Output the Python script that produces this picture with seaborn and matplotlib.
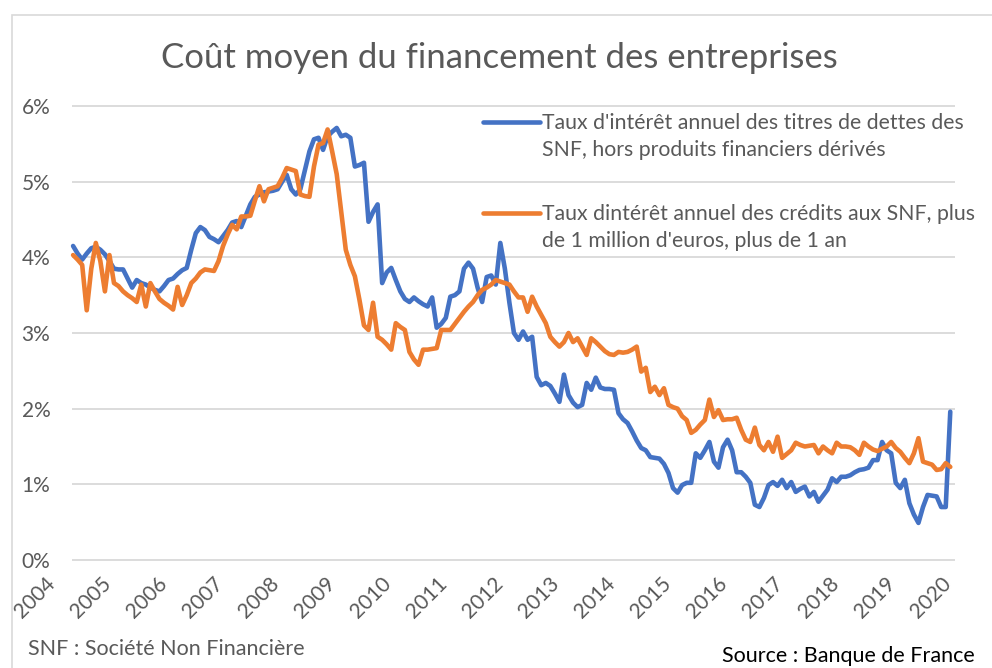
import pandas as pd
import matplotlib.pyplot as plt
import seaborn as sns
from matplotlib.patches import Rectangle

# Données mensuelles (en %)
titres = [
    4.15, 4.05, 3.97, 4.05, 4.12, 4.14, 4.10, 4.04, 3.95, 3.85, 3.84, 3.84,
    3.72, 3.60, 3.70, 3.66, 3.64, 3.60, 3.57, 3.55, 3.62, 3.70, 3.72, 3.78,
    3.83, 3.86, 4.10, 4.32, 4.40, 4.36, 4.27, 4.24, 4.20, 4.28, 4.36, 4.46,
    4.48, 4.40, 4.55, 4.70, 4.80, 4.83, 4.86, 4.87, 4.88, 4.90, 5.00, 5.09,
    4.90, 4.83, 4.90, 5.15, 5.40, 5.56, 5.58, 5.42, 5.60, 5.66, 5.71, 5.60,
    5.62, 5.58, 5.20, 5.22, 5.25, 4.47, 4.60, 4.70, 3.66, 3.80, 3.86, 3.70,
    3.55, 3.45, 3.41, 3.47, 3.42, 3.38, 3.35, 3.47, 3.07, 3.12, 3.20, 3.48,
    3.50, 3.55, 3.85, 3.93, 3.85, 3.60, 3.41, 3.74, 3.76, 3.64, 4.19, 3.85,
    3.40, 3.00, 2.91, 3.02, 2.91, 2.95, 2.42, 2.31, 2.34, 2.30, 2.20, 2.09,
    2.45, 2.18, 2.08, 2.02, 2.05, 2.34, 2.25, 2.41, 2.28, 2.26, 2.26, 2.25,
    1.94, 1.86, 1.81, 1.70, 1.58, 1.48, 1.45, 1.36, 1.35, 1.34, 1.27, 1.15,
    0.95, 0.89, 0.99, 1.02, 1.02, 1.41, 1.35, 1.45, 1.56, 1.30, 1.22, 1.49,
    1.59, 1.45, 1.16, 1.16, 1.10, 1.02, 0.73, 0.70, 0.82, 0.99, 1.03, 0.98,
    1.06, 0.95, 1.03, 0.90, 0.94, 0.97, 0.84, 0.90, 0.77, 0.85, 0.93, 1.08,
    1.03, 1.10, 1.10, 1.12, 1.16, 1.19, 1.20, 1.22, 1.32, 1.32, 1.56, 1.45,
    1.41, 1.02, 0.95, 1.06, 0.75, 0.60, 0.49, 0.70, 0.86, 0.85, 0.84, 0.70,
    0.70, 1.96,
]
credits = [
    4.03, 3.97, 3.90, 3.30, 3.85, 4.19, 3.95, 3.55, 4.03, 3.66, 3.62, 3.55,
    3.50, 3.46, 3.41, 3.64, 3.35, 3.66, 3.55, 3.45, 3.40, 3.36, 3.31, 3.61,
    3.37, 3.50, 3.66, 3.72, 3.80, 3.84, 3.83, 3.82, 3.95, 4.15, 4.30, 4.43,
    4.37, 4.54, 4.54, 4.55, 4.75, 4.94, 4.74, 4.90, 4.92, 4.94, 5.05, 5.18,
    5.16, 5.14, 4.83, 4.81, 4.80, 5.20, 5.49, 5.51, 5.69, 5.40, 5.10, 4.60,
    4.10, 3.90, 3.75, 3.44, 3.10, 3.04, 3.40, 2.95, 2.91, 2.85, 2.78, 3.13,
    3.08, 3.04, 2.75, 2.65, 2.58, 2.78, 2.78, 2.79, 2.80, 3.04, 3.04, 3.04,
    3.12, 3.20, 3.28, 3.35, 3.41, 3.50, 3.57, 3.60, 3.64, 3.70, 3.68, 3.66,
    3.64, 3.55, 3.47, 3.47, 3.28, 3.48, 3.35, 3.24, 3.13, 2.95, 2.88, 2.82,
    2.88, 3.00, 2.88, 2.93, 2.82, 2.71, 2.93, 2.88, 2.82, 2.76, 2.72, 2.71,
    2.75, 2.74, 2.75, 2.78, 2.82, 2.49, 2.54, 2.22, 2.29, 2.18, 2.27, 2.05,
    2.02, 2.00, 1.90, 1.85, 1.68, 1.72, 1.79, 1.85, 2.12, 1.89, 1.98, 1.85,
    1.86, 1.86, 1.88, 1.72, 1.59, 1.56, 1.75, 1.52, 1.45, 1.56, 1.43, 1.63,
    1.35, 1.40, 1.45, 1.55, 1.52, 1.50, 1.51, 1.52, 1.41, 1.50, 1.45, 1.41,
    1.55, 1.50, 1.50, 1.49, 1.45, 1.39, 1.55, 1.50, 1.46, 1.44, 1.47, 1.50,
    1.56, 1.48, 1.43, 1.35, 1.28, 1.41, 1.61, 1.30, 1.28, 1.26, 1.19, 1.20,
    1.28, 1.23,
]
annees = list(range(2004, 2021))

label_titres = "Taux d'intérêt annuel des titres de dettes des\nSNF, hors produits financiers dérivés"
label_credits = "Taux dintérêt annuel des crédits aux SNF, plus\nde 1 million d'euros, plus de 1 an"

mois = [2004 + i / 12 for i in range(len(titres))]
df = pd.DataFrame({
    'date': mois * 2,
    'taux': titres + credits,
    'serie': ['titres'] * len(titres) + ['credits'] * len(credits),
})

sns.set_style("white")
plt.rcParams['font.family'] = ['Lato', 'DejaVu Sans']
gris = '#595959'

fig = plt.figure(figsize=(9.92, 6.68), dpi=100)
ax = fig.add_axes([42 / 992, 1 - 560 / 668, (955 - 42) / 992, 454 / 668])

x0, x1 = 2003.98, 2020.17
# grille horizontale limitée à la zone de tracé
ax.hlines(range(0, 7), x0, x1, color='#d9d9d9', linewidth=1.3,
          zorder=0, clip_on=False)

sns.lineplot(data=df, x='date', y='taux', hue='serie',
             palette={'titres': '#4472C4', 'credits': '#ED7D31'},
             linewidth=3.3, legend=False, ax=ax, zorder=2)

ax.set_yticks(range(0, 7))
ax.set_yticklabels([f"{v}%" for v in range(0, 7)])
# étiquettes des années placées comme dans l'original (axe Excel)
ax.set_xticks([2003.49 + 1.0268 * k for k in range(len(annees))])
ax.set_xticklabels([str(a) for a in annees], rotation=45, ha='right',
                   rotation_mode='anchor')
ax.set_xlim(2003.43, x1)
ax.set_ylim(0, 6)
ax.tick_params(axis='both', colors=gris, labelsize=15, length=0)
ax.tick_params(axis='y', pad=-6)
ax.tick_params(axis='x', pad=10)
ax.set_xlabel('')
ax.set_ylabel('')
ax.grid(False)
sns.despine(ax=ax, left=True, bottom=True)

# Légende
for y_h, col, lab in [(122, '#4472C4', label_titres), (213, '#ED7D31', label_credits)]:
    fig.add_artist(plt.Line2D([483 / 992, 540 / 992], [1 - y_h / 668] * 2,
                              color=col, linewidth=3.3, solid_capstyle='round'))
    fig.text(542 / 992, 1 - (y_h - 9) / 668, lab, fontsize=15.3, color=gris,
             va='top', ha='left', linespacing=1.45)

fig.text(0.503, 1 - 58 / 668, "Coût moyen du financement des entreprises",
         fontsize=25, color=gris, ha='center', va='center')
fig.text(28 / 992, 1 - 649 / 668, "SNF : Société Non Financière",
         fontsize=15.5, color=gris, ha='left', va='center')
fig.text(975 / 992, 1 - 656 / 668, "Source : Banque de France",
         fontsize=15.5, color='black', ha='right', va='center')

fig.add_artist(Rectangle((12 / 992, -0.1), 1.2, 1 - 15 / 668 + 0.1,
                         transform=fig.transFigure, fill=False,
                         edgecolor='#d9d9d9', linewidth=1.2))

fig.savefig('out.png', dpi=100)
